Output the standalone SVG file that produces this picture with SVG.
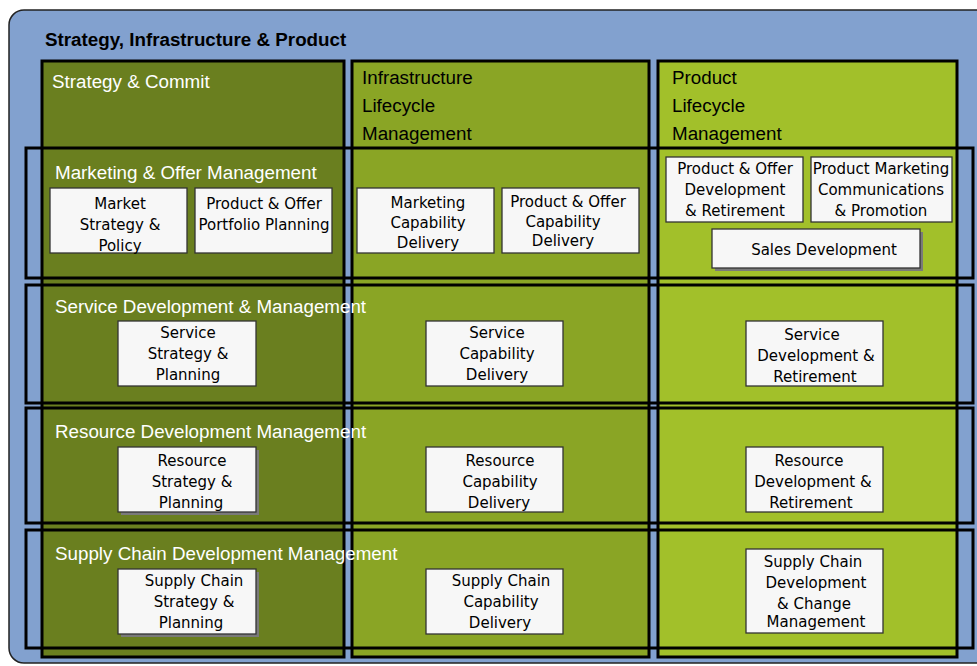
<svg xmlns="http://www.w3.org/2000/svg" width="977" height="666" viewBox="0 0 977 666">
<style>
.col{stroke:#000;stroke-width:3}
.row{fill:none;stroke:#000;stroke-width:3}
.box{fill:#f7f7f7;stroke:#333;stroke-width:1.3}
.sh{fill:#7a7a7a}
.bt{font-family:"DejaVu Sans",sans-serif;font-size:15px;fill:#000;text-anchor:middle}
.lw{font-family:"Liberation Sans",Arial,sans-serif;font-size:18.8px;fill:#fff}
.lb{font-family:"Liberation Sans",Arial,sans-serif;font-size:18.8px;fill:#000}
.title{font-family:"Liberation Sans",Arial,sans-serif;font-size:18.8px;font-weight:bold;fill:#000}
</style>
<rect width="977" height="666" fill="#fff"/>
<g id="frame">
<rect x="9" y="10" width="990" height="653" rx="15" ry="15" fill="#82a1cf" stroke="#222" stroke-width="1.5"/>
<text class="title" x="45" y="46">Strategy, Infrastructure &amp; Product</text>
</g>
<g id="col-strategy">
<rect class="col" x="42" y="61" width="302" height="596" fill="#6a7f1f"/>
<text class="lw" x="52" y="88">Strategy &amp; Commit</text>
</g>
<g id="col-infrastructure">
<rect class="col" x="352" y="61" width="297" height="596" fill="#8aa525"/>
<text class="lb" x="362" y="84">Infrastructure</text>
<text class="lb" x="362" y="112">Lifecycle</text>
<text class="lb" x="362" y="140">Management</text>
</g>
<g id="col-product">
<rect class="col" x="658" y="61" width="299" height="596" fill="#a2c02a"/>
<text class="lb" x="672" y="84">Product</text>
<text class="lb" x="672" y="112">Lifecycle</text>
<text class="lb" x="672" y="140">Management</text>
</g>
<g id="connectors"></g>
<g id="row-marketing">
<rect class="row" x="26" y="148" width="947" height="130"/>
<text class="lw" x="55" y="179">Marketing &amp; Offer Management</text>
</g>
<g id="row-service">
<rect class="row" x="26" y="285" width="947" height="118"/>
<text class="lw" x="55" y="313">Service Development &amp; Management</text>
</g>
<g id="row-resource">
<rect class="row" x="26" y="408" width="947" height="115"/>
<text class="lw" x="55" y="438">Resource Development Management</text>
</g>
<g id="row-supply">
<rect class="row" x="26" y="530" width="947" height="118"/>
<text class="lw" x="55" y="560">Supply Chain Development Management</text>
</g>
<g id="n-market-strategy">
<rect class="box" x="50" y="188" width="137" height="65"/>
<text class="bt" x="120" y="209">Market</text>
<text class="bt" x="120" y="230">Strategy &amp;</text>
<text class="bt" x="120" y="251">Policy</text>
</g>
<g id="n-portfolio-planning">
<rect class="box" x="195" y="188" width="137" height="65"/>
<text class="bt" x="264" y="209">Product &amp; Offer</text>
<text class="bt" x="264" y="230">Portfolio Planning</text>
</g>
<g id="n-marketing-capability">
<rect class="box" x="357" y="188" width="137" height="65"/>
<text class="bt" x="428" y="208">Marketing</text>
<text class="bt" x="428" y="228">Capability</text>
<text class="bt" x="428" y="248">Delivery</text>
</g>
<g id="n-offer-capability">
<rect class="box" x="502" y="188" width="137" height="65"/>
<text class="bt" x="568" y="207">Product &amp; Offer</text>
<text class="bt" x="563" y="227">Capability</text>
<text class="bt" x="563" y="246">Delivery</text>
</g>
<g id="n-offer-development">
<rect class="box" x="666" y="157" width="137" height="65"/>
<text class="bt" x="735" y="174">Product &amp; Offer</text>
<text class="bt" x="735" y="195">Development</text>
<text class="bt" x="735" y="216">&amp; Retirement</text>
</g>
<g id="n-marketing-communications">
<rect class="box" x="811" y="157" width="141" height="65"/>
<text class="bt" x="881" y="174">Product Marketing</text>
<text class="bt" x="881" y="195">Communications</text>
<text class="bt" x="881" y="216">&amp; Promotion</text>
</g>
<g id="n-sales-development">
<rect class="sh" x="715" y="232" width="208" height="39"/>
<rect class="box" x="712" y="229" width="208" height="39"/>
<text class="bt" x="824" y="255">Sales Development</text>
</g>
<g id="n-service-strategy">
<rect class="box" x="118" y="321" width="138" height="65"/>
<text class="bt" x="188" y="338">Service</text>
<text class="bt" x="188" y="359">Strategy &amp;</text>
<text class="bt" x="188" y="380">Planning</text>
</g>
<g id="n-service-capability">
<rect class="box" x="426" y="321" width="137" height="65"/>
<text class="bt" x="497" y="338">Service</text>
<text class="bt" x="497" y="359">Capability</text>
<text class="bt" x="497" y="380">Delivery</text>
</g>
<g id="n-service-development">
<rect class="box" x="746" y="321" width="137" height="65"/>
<text class="bt" x="812" y="340">Service</text>
<text class="bt" x="816" y="361">Development &amp;</text>
<text class="bt" x="815" y="382">Retirement</text>
</g>
<g id="n-resource-strategy">
<rect class="sh" x="121" y="450" width="138" height="65"/>
<rect class="box" x="118" y="447" width="138" height="65"/>
<text class="bt" x="192" y="466">Resource</text>
<text class="bt" x="192" y="487">Strategy &amp;</text>
<text class="bt" x="191" y="508">Planning</text>
</g>
<g id="n-resource-capability">
<rect class="box" x="426" y="447" width="137" height="65"/>
<text class="bt" x="500" y="466">Resource</text>
<text class="bt" x="500" y="487">Capability</text>
<text class="bt" x="499" y="508">Delivery</text>
</g>
<g id="n-resource-development">
<rect class="box" x="746" y="447" width="137" height="65"/>
<text class="bt" x="809" y="466">Resource</text>
<text class="bt" x="813" y="487">Development &amp;</text>
<text class="bt" x="811" y="508">Retirement</text>
</g>
<g id="n-supply-strategy">
<rect class="sh" x="121" y="572" width="138" height="65"/>
<rect class="box" x="118" y="569" width="138" height="65"/>
<text class="bt" x="194" y="586">Supply Chain</text>
<text class="bt" x="194" y="607">Strategy &amp;</text>
<text class="bt" x="191" y="628">Planning</text>
</g>
<g id="n-supply-capability">
<rect class="box" x="426" y="569" width="137" height="65"/>
<text class="bt" x="501" y="586">Supply Chain</text>
<text class="bt" x="501" y="607">Capability</text>
<text class="bt" x="500" y="628">Delivery</text>
</g>
<g id="n-supply-development">
<rect class="box" x="746" y="549" width="137" height="84"/>
<text class="bt" x="813" y="567">Supply Chain</text>
<text class="bt" x="816" y="588">Development</text>
<text class="bt" x="814" y="609">&amp; Change</text>
<text class="bt" x="816" y="627">Management</text>
</g>
</svg>
